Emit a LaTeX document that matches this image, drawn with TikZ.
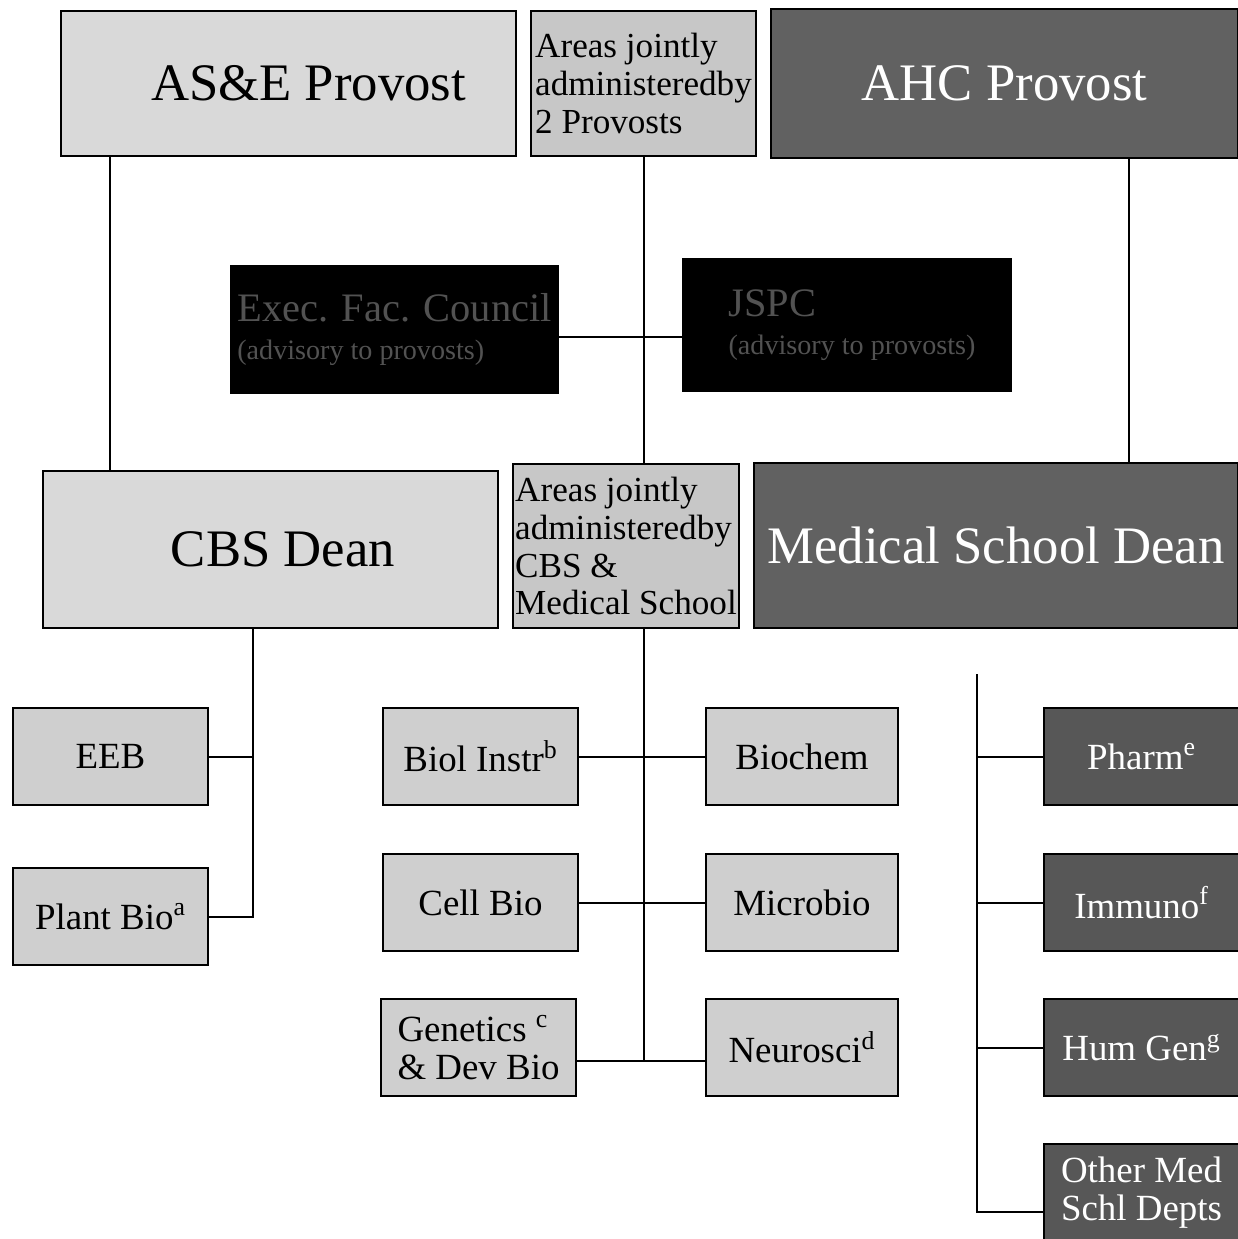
\documentclass[tikz,border=0pt]{standalone}
\usepackage{fontspec}
\setmainfont{Liberation Serif}
\usetikzlibrary{positioning}

\newcommand\provfont{\fontsize{30}{32}\selectfont}
\newcommand\areafont{\fontsize{20}{21.6}\selectfont}
\newcommand\deptfont{\fontsize{21}{21.6}\selectfont}
\newcommand\councilfont{\fontsize{23}{26}\selectfont}
\newcommand\notefont{\fontsize{16}{26}\selectfont}

\tikzset{
  box/.style={rectangle, draw, line width=0.4mm, inner sep=0pt, anchor=north west},
  light/.style={box, fill=black!15},
  dark/.style={box, fill=black!62, text=white},
  council/.style={box, fill=black, text=black!68, align=left, font=\councilfont},
  dept/.style={light, fill=black!19, minimum width=39mm, minimum height=19.4mm, font=\deptfont},
  meddept/.style={dept, fill=black!66, text=white},
}

\begin{document}
\begin{tikzpicture}[x=0.2mm, y=-0.2mm, line width=0.4mm]
\useasboundingbox (0,0) rectangle (1237,1239);

\node (asep) [light, minimum width=91mm, minimum height=29mm, font=\provfont] at (60,10) {\hspace{8mm}AS\&E Provost};
\node (jointtop) [light, fill=black!22, minimum width=45mm, minimum height=29mm, font=\areafont, align=left] at (530,10) {Areas jointly\\administeredby\\2 Provosts};
\node (ahc) [dark, minimum width=93.4mm, minimum height=29.8mm, font=\provfont] at (770,8) {AHC Provost};

\node (efc) [council, minimum width=65.4mm, minimum height=25.4mm] at (230,265) {Exec. Fac. Council\\[-4pt]{\notefont (advisory to provosts)}};
\node (jspc) [council, minimum width=65.6mm, minimum height=26.4mm] at (682,258) {\hspace{2mm}JSPC\\[-4pt]\hspace{2mm}{\notefont (advisory to provosts)}};

\node (cbs) [light, minimum width=91mm, minimum height=31.4mm, font=\provfont] at (42,470) {\hspace{5mm}CBS Dean};
\node (jointlow) [light, fill=black!22, minimum width=45.2mm, minimum height=32.8mm, font=\areafont, align=left] at (512,463) {Areas jointly\\administeredby\\CBS \&\\Medical School};
\node (msd) [dark, minimum width=96.8mm, minimum height=33mm, font=\provfont] at (753,462) {Medical School Dean};

\node (eeb) [dept] at (12,707) {EEB};
\node (plant) [dept] at (12,867) {Plant Bio\textsuperscript{a}};

\node (biol) [dept] at (382,707) {Biol Instr\textsuperscript{b}};
\node (cell) [dept] at (382,853) {Cell Bio};
\node (genet) [dept, align=left] at (380,998) {Genetics \textsuperscript{c}\\\& Dev Bio};
\node (biochem) [dept, minimum width=38.4mm] at (705,707) {Biochem};
\node (micro) [dept, minimum width=38.4mm] at (705,853) {Microbio};
\node (neuro) [dept, minimum width=38.4mm] at (705,998) {Neurosci\textsuperscript{d}};

\node (pharm) [meddept] at (1043,707) {Pharm\textsuperscript{e}};
\node (immuno) [meddept] at (1043,853) {Immuno\textsuperscript{f}};
\node (humgen) [meddept] at (1043,998) {Hum Gen\textsuperscript{g}};
\node (othermed) [meddept, align=center] at (1043,1143) {Other Med\\Schl Depts};

\coordinate (asepdrop) at ([xshift=10mm]asep.south west);
\coordinate (ahcdrop) at ([xshift=-22mm]ahc.south east);
\coordinate (councilline) at ([yshift=-1.5mm]efc.east);
\draw (asepdrop) -- (asepdrop |- cbs.north);
\draw (jointtop.south) -- (jointtop.south |- jointlow.north);
\draw (ahcdrop) -- (ahcdrop |- msd.north);
\draw (councilline) -- (councilline -| jspc.west);

\coordinate (cbsdrop) at ([xshift=42.2mm]cbs.south west);
\draw (cbsdrop) |- (plant.east);
\draw (eeb.east) -- (eeb.east -| cbsdrop);

\coordinate (jointdrop) at (jointtop.south |- jointlow.south);
\coordinate (genetline) at ([yshift=-2.7mm]genet.east);
\draw (jointdrop) -- (jointdrop |- genetline);
\draw (biol.east) -- (biochem.west);
\draw (cell.east) -- (micro.west);
\draw (genetline) -- (genetline -| neuro.west);

\coordinate (medtop) at ([xshift=-13.2mm, yshift=-9mm]pharm.west |- msd.south);
\coordinate (otherline) at ([yshift=-3.8mm]othermed.west);
\draw (medtop) |- (otherline);
\draw (pharm.west) -- (pharm.west -| medtop);
\draw (immuno.west) -- (immuno.west -| medtop);
\draw (humgen.west) -- (humgen.west -| medtop);
\end{tikzpicture}
\end{document}
